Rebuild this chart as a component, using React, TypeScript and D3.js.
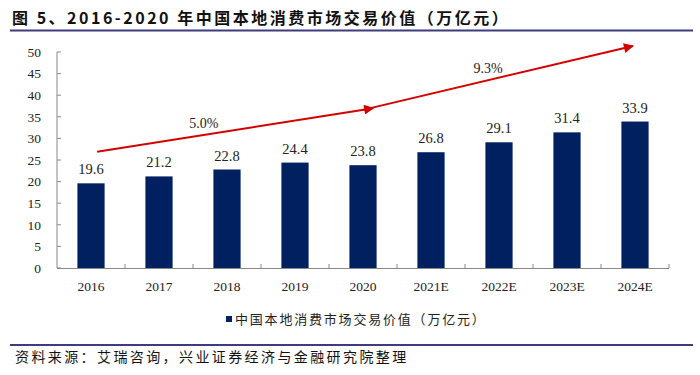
import React from "react";
import * as d3 from "d3";

const categories = ["2016", "2017", "2018", "2019", "2020", "2021E", "2022E", "2023E", "2024E"];
const values = [19.6, 21.2, 22.8, 24.4, 23.8, 26.8, 29.1, 31.4, 33.9];
const yTicks = [0, 5, 10, 15, 20, 25, 30, 35, 40, 45, 50];
const titleText = "图 5、2016-2020 年中国本地消费市场交易价值（万亿元）";
const legendText = "中国本地消费市场交易价值（万亿元）";
const sourceText = "资料来源：艾瑞咨询，兴业证券经济与金融研究院整理";
// growth arrows: start/end positions in (category index, value) space
const arrowStartIdx = [0.09, 4.0];
const arrowStartVal = [26.9, 36.6];
const arrowEndIdx = [4.15, 7.97];
const arrowEndVal = [37.0, 51.4];
const cagrLabels = ["5.0%", "9.3%"];
const cagrLabelIdx = [1.66, 5.84];
const cagrLabelVal = [33.6, 46.2];

const W = 700;
const H = 375;
const left = 57;
const right = 669;
const top = 52;
const bottom = 268;

const serif = "'Liberation Serif', 'Times New Roman', serif";
const cjk = "'Noto Sans CJK SC', sans-serif";

export default function App() {
  const x = d3.scaleBand<string>().domain(categories).range([left, right]).paddingInner(0.6).paddingOuter(0.3);
  const xb = d3.scaleBand<string>().domain(categories).range([left, right]);
  const xi = d3.scaleLinear().domain([-0.5, categories.length - 0.5]).range([left, right]);
  const y = d3.scaleLinear().domain([0, 50]).range([bottom, top]);
  const red = "#d40000";
  const navy = "#002060";

  return (
    <svg width={W} height={H} style={{ position: "fixed", left: 0, top: 0, background: "#fff" }}>
      <defs>
        <marker id="ah" viewBox="0 0 10 10" refX="9" refY="5" markerWidth="6.5" markerHeight="5" markerUnits="strokeWidth" orient="auto">
          <path d="M0,0 L10,5 L0,10 z" fill={red} />
        </marker>
      </defs>
      <text x={12} y={24} fontFamily={cjk} fontWeight="bold" fontSize={16} letterSpacing={2.5} fill="#111">
        {titleText}
      </text>
      <line x1={10} x2={693} y1={30.5} y2={30.5} stroke="#3f3b7f" strokeWidth={2} />

      {/* y axis */}
      <line x1={left} x2={left} y1={top} y2={bottom} stroke="#888" strokeWidth={1} />
      {yTicks.map((t) => (
        <g key={t}>
          <line x1={left} x2={left + 4} y1={y(t)} y2={y(t)} stroke="#888" />
          <text x={41} y={y(t)} dy="0.35em" textAnchor="end" fontFamily={serif} fontSize={13.5} fill="#222">
            {t}
          </text>
        </g>
      ))}
      {/* x axis */}
      <line x1={left} x2={right} y1={bottom + 0.5} y2={bottom + 0.5} stroke="#888" />
      {categories.map((c) => (
        <line key={"t" + c} x1={(xb(c) as number) + xb.bandwidth()} x2={(xb(c) as number) + xb.bandwidth()} y1={bottom} y2={bottom - 4} stroke="#888" />
      ))}

      {categories.map((c, i) => (
        <g key={c}>
          <rect x={x(c)} y={y(values[i])} width={x.bandwidth()} height={bottom - y(values[i])} fill={navy} />
          <text x={(x(c) as number) + x.bandwidth() / 2} y={y(values[i]) - 9} textAnchor="middle" fontFamily={serif} fontSize={14.5} fill="#222">
            {values[i].toFixed(1)}
          </text>
          <text x={(xb(c) as number) + xb.bandwidth() / 2} y={291} textAnchor="middle" fontFamily={serif} fontSize={13.5} fill="#222">
            {c}
          </text>
        </g>
      ))}

      {arrowStartIdx.map((s, i) => (
        <line key={"a" + i} x1={xi(s)} y1={y(arrowStartVal[i])} x2={xi(arrowEndIdx[i])} y2={y(arrowEndVal[i])} stroke={red} strokeWidth={2} markerEnd="url(#ah)" />
      ))}
      {cagrLabels.map((l, i) => (
        <text key={l} x={xi(cagrLabelIdx[i])} y={y(cagrLabelVal[i])} dy="0.35em" textAnchor="middle" fontFamily={serif} fontSize={14} fill="#222">
          {l}
        </text>
      ))}

      {/* legend */}
      <rect x={226} y={316} width={6} height={6} fill={navy} />
      <text x={235} y={319} dy="0.36em" fontFamily={cjk} fontSize={13} letterSpacing={1.8} fill="#222">
        {legendText}
      </text>

      <line x1={10} x2={693} y1={345} y2={345} stroke="#3f3b7f" strokeWidth={2} />
      <text x={15} y={362} fontFamily={cjk} fontSize={14} letterSpacing={2.4} fill="#111">
        {sourceText}
      </text>
    </svg>
  );
}
